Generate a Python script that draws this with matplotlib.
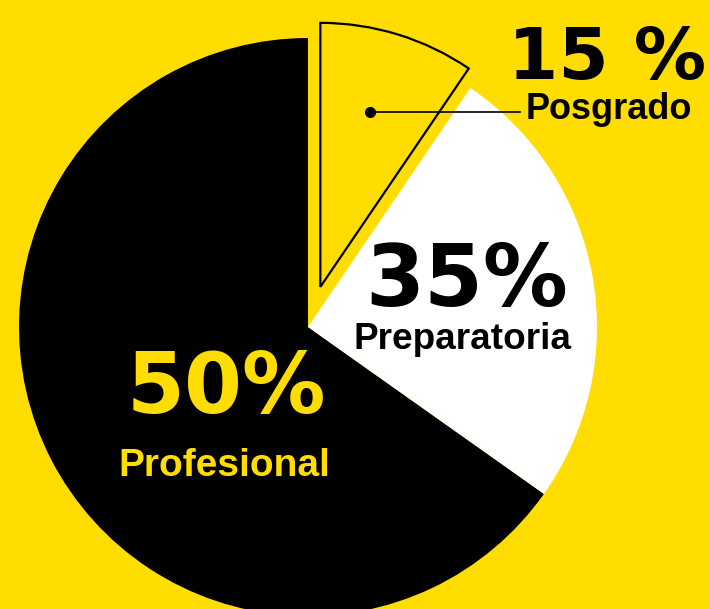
import matplotlib
matplotlib.use('Agg')
import matplotlib.pyplot as plt

# data
categories = ['Profesional', 'Preparatoria', 'Posgrado']
pct_labels = ['50%', '35%', '15 %']
# angular shares as they are drawn in the picture
shares = [65.2, 25.3, 9.5]

yellow = '#FFDD00'
colors = ['black', 'white', yellow]

fig = plt.figure(figsize=(7.1, 6.09), dpi=100, facecolor=yellow)
ax = fig.add_axes([0, 0, 1, 1])
ax.set_facecolor(yellow)

# explode is in data units here (pixels), not in radius units
wedges, _ = ax.pie(shares, colors=colors, startangle=90, counterclock=True,
                   center=(308, 282), radius=289, explode=[0, 0, 42],
                   wedgeprops=dict(linewidth=0))

# the posgrado slice is drawn smaller, as an outline
wedges[2].set_radius(264)
wedges[2].set_facecolor(yellow)
wedges[2].set_edgecolor('black')
wedges[2].set_linewidth(1.6)

ax.set_xlim(0, 710)
ax.set_ylim(0, 609)
ax.set_aspect('auto')
ax.axis('off')

num_font = dict(family='DejaVu Sans', weight='bold')
lab_font = dict(family='Liberation Sans', weight='bold')

# Posgrado
ax.text(607, 530, pct_labels[2], fontsize=52, color='black', ha='center', va='baseline', **num_font)
ax.text(609, 490, categories[2], fontsize=26, color='black', ha='center', va='baseline', **lab_font)
ax.plot([370, 520], [497, 497], color='black', lw=1.2)
ax.plot(370, 497, 'o', ms=7, color='black')

# Preparatoria
ax.text(467, 303, pct_labels[1], fontsize=61, color='black', ha='center', va='baseline', **num_font)
ax.text(462, 260, categories[1], fontsize=26.6, color='black', ha='center', va='baseline', **lab_font)

# Profesional
ax.text(226, 196, pct_labels[0], fontsize=60, color=yellow, ha='center', va='baseline', **num_font)
ax.text(224, 133, categories[0], fontsize=28, color=yellow, ha='center', va='baseline', **lab_font)

plt.savefig('out.png', dpi=100, facecolor=yellow)
